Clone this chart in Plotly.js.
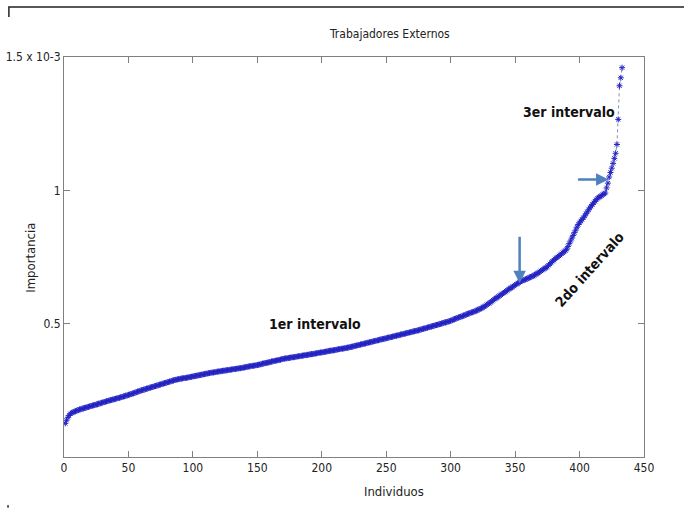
<!DOCTYPE html>
<html>
<head>
<meta charset="utf-8">
<script src="https://cdn.plot.ly/plotly-3.0.1.min.js"></script>
<style>html,body{margin:0;padding:0;background:#fff;}#chart{width:684px;height:513px;}</style>
</head>
<body>
<div id="chart"></div>
<script>
// Importancia por individuo (x 10^-3), ordered ascending
const importancia = [
0.126,0.138,0.149,0.156,0.162,0.165,0.168,0.170,0.172,0.174,
0.176,0.178,0.179,0.181,0.182,0.184,0.185,0.187,0.188,0.190,
0.191,0.193,0.194,0.195,0.197,0.198,0.200,0.201,0.203,0.204,
0.206,0.207,0.209,0.210,0.212,0.213,0.214,0.216,0.217,0.218,
0.220,0.221,0.222,0.224,0.225,0.227,0.228,0.230,0.231,0.233,
0.234,0.236,0.238,0.239,0.241,0.243,0.245,0.246,0.248,0.250,
0.251,0.253,0.254,0.256,0.257,0.259,0.260,0.262,0.263,0.265,
0.266,0.268,0.269,0.271,0.272,0.274,0.275,0.277,0.278,0.280,
0.281,0.283,0.284,0.286,0.287,0.289,0.290,0.291,0.292,0.293,
0.294,0.295,0.296,0.296,0.297,0.298,0.299,0.300,0.301,0.302,
0.303,0.304,0.305,0.306,0.307,0.308,0.309,0.310,0.311,0.312,
0.313,0.314,0.315,0.316,0.317,0.317,0.318,0.319,0.320,0.321,
0.321,0.322,0.323,0.324,0.324,0.325,0.326,0.327,0.327,0.328,
0.329,0.330,0.330,0.331,0.332,0.333,0.333,0.334,0.335,0.336,
0.337,0.338,0.339,0.340,0.341,0.342,0.342,0.343,0.344,0.345,
0.346,0.347,0.348,0.350,0.351,0.352,0.353,0.354,0.355,0.356,
0.358,0.359,0.360,0.361,0.362,0.363,0.364,0.365,0.367,0.368,
0.369,0.370,0.370,0.371,0.372,0.373,0.374,0.374,0.375,0.376,
0.377,0.378,0.378,0.379,0.380,0.381,0.382,0.382,0.383,0.384,
0.385,0.386,0.386,0.387,0.388,0.389,0.390,0.391,0.392,0.392,
0.393,0.394,0.395,0.396,0.397,0.398,0.399,0.399,0.400,0.401,
0.402,0.403,0.404,0.405,0.406,0.406,0.407,0.408,0.409,0.410,
0.411,0.412,0.413,0.414,0.416,0.417,0.418,0.419,0.420,0.422,
0.423,0.424,0.425,0.426,0.428,0.429,0.430,0.431,0.432,0.434,
0.435,0.436,0.437,0.438,0.440,0.441,0.442,0.443,0.444,0.445,
0.447,0.448,0.449,0.450,0.451,0.453,0.454,0.455,0.456,0.457,
0.459,0.460,0.461,0.462,0.463,0.465,0.466,0.467,0.468,0.469,
0.471,0.472,0.473,0.474,0.475,0.477,0.478,0.480,0.481,0.482,
0.484,0.485,0.487,0.488,0.489,0.491,0.492,0.494,0.495,0.496,
0.498,0.499,0.501,0.502,0.504,0.505,0.506,0.508,0.509,0.511,
0.513,0.515,0.517,0.519,0.521,0.523,0.525,0.526,0.528,0.530,
0.532,0.534,0.536,0.538,0.540,0.542,0.543,0.545,0.547,0.549,
0.551,0.554,0.556,0.558,0.561,0.564,0.567,0.571,0.574,0.577,
0.580,0.584,0.588,0.592,0.595,0.598,0.602,0.605,0.608,0.612,
0.615,0.618,0.622,0.625,0.629,0.632,0.635,0.638,0.641,0.645,
0.648,0.651,0.654,0.657,0.660,0.662,0.664,0.666,0.668,0.670,
0.673,0.675,0.677,0.679,0.682,0.685,0.688,0.691,0.694,0.698,
0.701,0.704,0.707,0.710,0.714,0.719,0.724,0.729,0.734,0.738,
0.743,0.747,0.750,0.754,0.758,0.762,0.766,0.770,0.774,0.779,
0.789,0.800,0.810,0.821,0.831,0.841,0.851,0.862,0.872,0.878,
0.885,0.891,0.897,0.904,0.912,0.919,0.927,0.934,0.941,0.947,
0.953,0.959,0.965,0.970,0.974,0.977,0.980,0.984,0.987,0.990,
1.009,1.027,1.050,1.067,1.083,1.101,1.120,1.139,1.172,1.266,
1.392,1.422,1.460
];
const individuos = importancia.map((_, i) => i + 1);

const xTicks = [0, 50, 100, 150, 200, 250, 300, 350, 400, 450];
const yTicks = [0.5, 1, 1.5];
const yTickText = ["0.5", "1", "1.5 x 10-3"];

const FONT = "'DejaVu Sans Condensed', 'Liberation Sans Narrow', Roboto, sans-serif";

const trace = {
  x: individuos,
  y: importancia,
  type: 'scatter',
  mode: 'lines+markers',
  line: {color: '#8a8ab8', width: 1, dash: 'dot'},
  marker: {symbol: 'asterisk-open', size: 5, color: '#2424c4', line: {color: '#2424c4', width: 1}},
  hoverinfo: 'skip',
  showlegend: false
};

const axisCommon = {
  showgrid: false,
  zeroline: false,
  showline: true,
  linecolor: '#808080',
  linewidth: 1,
  mirror: 'ticks',
  ticks: 'inside',
  ticklen: 6,
  tickcolor: '#808080',
  tickfont: {family: FONT, size: 12, color: '#222'}
};

const layout = {
  width: 684, height: 513,
  margin: {l: 64, r: 40, t: 57, b: 56},
  paper_bgcolor: '#fff', plot_bgcolor: '#fff',
  font: {family: FONT, color: '#222'},
  title: {text: 'Trabajadores Externos', font: {family: FONT, size: 12, color: '#222'}, x: 0.57, xanchor: 'center', y: 0.935, yanchor: 'middle'},
  xaxis: Object.assign({}, axisCommon, {
    range: [0, 450], tickvals: xTicks, ticktext: xTicks.map(String)
  }),
  yaxis: Object.assign({}, axisCommon, {
    range: [0, 1.5], tickvals: yTicks, ticktext: yTickText
  }),
  annotations: [
    {x: -0.059, y: 0.4975, xref: 'paper', yref: 'paper', xanchor: 'center', yanchor: 'middle', text: 'Importancia', showarrow: false, textangle: -90, font: {family: FONT, size: 13, color: '#222'}},
    {x: 0.569, y: -0.0875, xref: 'paper', yref: 'paper', xanchor: 'center', yanchor: 'middle', text: 'Individuos', showarrow: false, font: {family: FONT, size: 13, color: '#222'}},
    {x: 195, y: 0.5, xref: 'x', yref: 'y', text: '<b>1er intervalo</b>', showarrow: false, font: {family: FONT, size: 14, color: '#111'}},
    {x: 392, y: 1.295, xref: 'x', yref: 'y', text: '<b>3er intervalo</b>', showarrow: false, font: {family: FONT, size: 14, color: '#111'}},
    {x: 408, y: 0.705, xref: 'x', yref: 'y', text: '<b>2do intervalo</b>', showarrow: false, textangle: -48, font: {family: FONT, size: 14, color: '#111'}},
    {x: 353.5, y: 0.652, xref: 'x', yref: 'y', ax: 0, ay: -48, text: '', showarrow: true, arrowhead: 2, arrowsize: 1, arrowwidth: 2.5, arrowcolor: '#4f81bd'},
    {x: 422.5, y: 1.041, xref: 'x', yref: 'y', ax: -32, ay: 0, text: '', showarrow: true, arrowhead: 2, arrowsize: 1, arrowwidth: 2.5, arrowcolor: '#4f81bd'}
  ],
  shapes: [
    {type: 'path', xref: 'paper', yref: 'paper', path: 'M -0.095 1.1 L -0.095 1.125 L 1.069 1.125', line: {color: '#222', width: 1.5}},
    {type: 'line', xref: 'paper', yref: 'paper', x0: -0.0965, x1: -0.0965, y0: -0.12, y1: -0.127, line: {color: '#333', width: 1.5}}
  ]
};

Plotly.newPlot('chart', [trace], layout, {staticPlot: true, displayModeBar: false});
</script>
</body>
</html>
